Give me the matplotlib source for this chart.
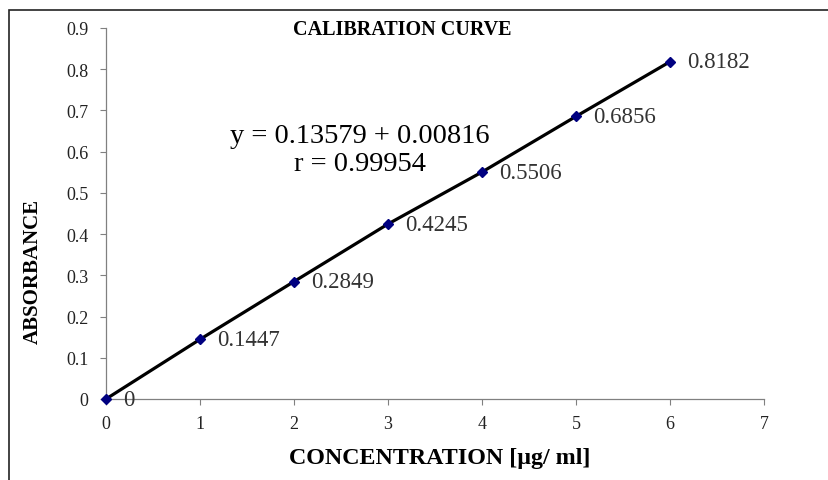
import matplotlib.pyplot as plt
from matplotlib.patches import Rectangle

# data
konsentrasjon = [0, 1, 2, 3, 4, 5, 6]
absorbans = [0, 0.1447, 0.2849, 0.4245, 0.5506, 0.6856, 0.8182]
punkt_etiketter = ['0', '0.1447', '0.2849', '0.4245', '0.5506', '0.6856', '0.8182']
x_ticks = [0, 1, 2, 3, 4, 5, 6, 7]
y_ticks = [0, 0.1, 0.2, 0.3, 0.4, 0.5, 0.6, 0.7, 0.8, 0.9]
y_tick_labels = ['0', '0.1', '0.2', '0.3', '0.4', '0.5', '0.6', '0.7', '0.8', '0.9']
likning = 'y = 0.13579 + 0.00816'
r_verdi = 'r = 0.99954'

plt.rcParams['font.family'] = ['Liberation Serif', 'DejaVu Serif']

fig = plt.figure(figsize=(8.29, 4.81), dpi=100)
ax = fig.add_axes([106/829, 1 - 400/481, (764 - 106)/829, (400 - 29)/481])

# ramme rundt hele figuren
fig.patches.append(Rectangle((9/829, -0.2), 1.2, 1.2 - 11/481,
                             transform=fig.transFigure, fill=False,
                             edgecolor='#222222', linewidth=1.2))

ax.plot(konsentrasjon, absorbans, color='black', linewidth=2.3, zorder=2)
ax.plot(konsentrasjon, absorbans, linestyle='none', marker='D', markersize=5,
        color='#000080', zorder=3, clip_on=False)

for x, y, lab in zip(konsentrasjon, absorbans, punkt_etiketter):
    ax.annotate(lab, (x, y), xytext=(12, 0), textcoords='offset points',
                va='center', ha='left', fontsize=16.5, color='#333333')

ax.set_xlim(0, 7)
ax.set_ylim(0, 0.9)
ax.set_xticks(x_ticks)
ax.set_yticks(y_ticks)
ax.set_yticklabels(y_tick_labels)
ax.tick_params(direction='out', length=4.5, width=0.8, color='#808080',
               labelsize=13, labelcolor='#222222')
ax.tick_params(axis='y', pad=8)
ax.tick_params(axis='x', pad=7)

for side in ['top', 'right']:
    ax.spines[side].set_visible(False)
for side in ['left', 'bottom']:
    ax.spines[side].set_color('#808080')
    ax.spines[side].set_linewidth(0.9)

fig.text(402/829, 1 - 30/481, 'CALIBRATION CURVE', ha='center', va='center',
         fontsize=14.5, fontweight='bold')
ax.text((360 - 106)/94, (400 - 137)/412.2, likning, ha='center', va='center', fontsize=20.5)
ax.text((360 - 106)/94, (400 - 165)/412.2, r_verdi, ha='center', va='center', fontsize=20.5)

fig.text(440/829, 1 - 459/481, 'CONCENTRATION [µg/ ml]', ha='center', va='center',
         fontsize=17.3, fontweight='bold')
fig.text(33/829, 1 - 272/481, 'ABSORBANCE', ha='center', va='center',
         rotation=90, fontsize=15, fontweight='bold')

fig.savefig('out.png', dpi=100)
